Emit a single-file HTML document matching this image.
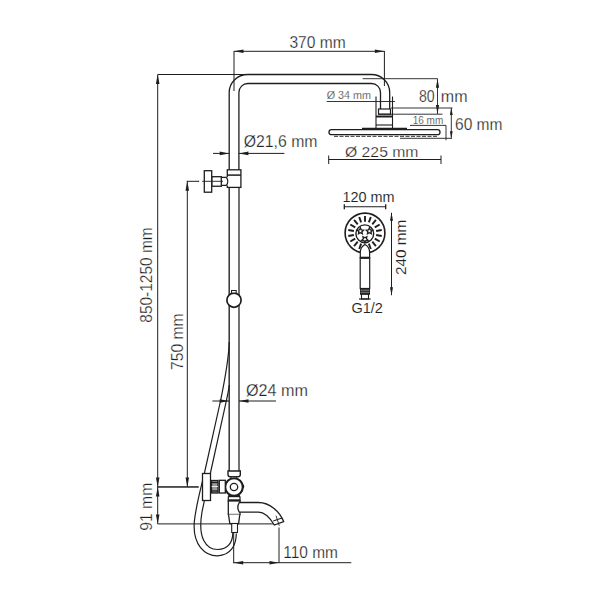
<!DOCTYPE html>
<html><head><meta charset="utf-8"><style>
html,body{margin:0;padding:0;background:#fff;width:600px;height:600px;overflow:hidden}
svg{display:block}
text{font-family:"Liberation Sans",sans-serif}
</style></head><body>
<svg width="600" height="600" viewBox="0 0 600 600">
<rect width="600" height="600" fill="#fff"/>
<path d="M229.2,172 L229.2,92.5 A18.6,18 0 0 1 247.8,74.5 L371.3,74.5 A18.4,18 0 0 1 389.7,92.5 L389.7,109" stroke="#1e1e1e" stroke-width="1.3" fill="none" />
<path d="M238.9,172 L238.9,92.5 A9,9 0 0 1 247.9,83.5 L371.5,83.5 A9,9 0 0 1 380.5,92.5 L380.5,109" stroke="#1e1e1e" stroke-width="1.3" fill="none" />
<line x1="234" y1="51" x2="234" y2="91" stroke="#1e1e1e" stroke-width="1.0" />
<line x1="384.4" y1="51" x2="384.4" y2="86" stroke="#1e1e1e" stroke-width="1.0" />
<line x1="234" y1="51.3" x2="384.4" y2="51.3" stroke="#1e1e1e" stroke-width="1.0" />
<polygon points="234.00,51.30 243.50,49.50 243.50,53.10" fill="#1e1e1e"/>
<polygon points="384.40,51.30 374.90,49.50 374.90,53.10" fill="#1e1e1e"/>
<text x="289.4" y="47.6" font-size="16" fill="#222" stroke="#fff" stroke-width="0.25" text-anchor="start" textLength="56.2" lengthAdjust="spacingAndGlyphs">370 mm</text>
<line x1="157.7" y1="74.5" x2="247.5" y2="74.5" stroke="#1e1e1e" stroke-width="1.0" />
<line x1="157.7" y1="74.5" x2="157.7" y2="487" stroke="#1e1e1e" stroke-width="1.0" />
<polygon points="157.70,74.50 155.90,84.00 159.50,84.00" fill="#1e1e1e"/>
<polygon points="157.70,487.00 155.90,477.50 159.50,477.50" fill="#1e1e1e"/>
<text x="152.1" y="322.7" font-size="16" fill="#222" stroke="#fff" stroke-width="0.25" text-anchor="start" textLength="95.4" lengthAdjust="spacingAndGlyphs" transform="rotate(-90 152.1 322.7)">850-1250 mm</text>
<line x1="187.3" y1="181.3" x2="187.3" y2="487" stroke="#1e1e1e" stroke-width="1.0" />
<polygon points="187.30,181.30 185.50,190.80 189.10,190.80" fill="#1e1e1e"/>
<polygon points="187.30,487.00 185.50,477.50 189.10,477.50" fill="#1e1e1e"/>
<text x="183.3" y="370" font-size="16" fill="#222" stroke="#fff" stroke-width="0.25" text-anchor="start" textLength="56.7" lengthAdjust="spacingAndGlyphs" transform="rotate(-90 183.3 370)">750 mm</text>
<line x1="186.7" y1="181.3" x2="198.7" y2="181.3" stroke="#1e1e1e" stroke-width="1.0" />
<line x1="157.7" y1="487" x2="198.8" y2="487" stroke="#1e1e1e" stroke-width="1.0" />
<line x1="157.7" y1="487" x2="157.7" y2="523.9" stroke="#1e1e1e" stroke-width="1.0" />
<polygon points="157.70,487.00 155.90,496.50 159.50,496.50" fill="#1e1e1e"/>
<polygon points="157.70,523.90 155.90,514.40 159.50,514.40" fill="#1e1e1e"/>
<line x1="157.7" y1="523.9" x2="273.7" y2="523.9" stroke="#1e1e1e" stroke-width="1.0" />
<text x="152.2" y="530.7" font-size="16" fill="#222" stroke="#fff" stroke-width="0.25" text-anchor="start" textLength="47.9" lengthAdjust="spacingAndGlyphs" transform="rotate(-90 152.2 530.7)">91 mm</text>
<line x1="229.2" y1="187" x2="229.2" y2="471" stroke="#333" stroke-width="1.5" />
<line x1="239.0" y1="187" x2="239.0" y2="471" stroke="#444" stroke-width="1.5" />
<line x1="213" y1="153.4" x2="229.2" y2="153.4" stroke="#1e1e1e" stroke-width="1.0" />
<polygon points="229.20,153.40 219.70,151.60 219.70,155.20" fill="#1e1e1e"/>
<line x1="238.9" y1="153.4" x2="284.4" y2="153.4" stroke="#1e1e1e" stroke-width="1.0" />
<polygon points="238.90,153.40 248.40,151.60 248.40,155.20" fill="#1e1e1e"/>
<text x="243.7" y="147" font-size="16" fill="#222" stroke="#fff" stroke-width="0.25" text-anchor="start" textLength="73.8" lengthAdjust="spacingAndGlyphs">Ø21,6 mm</text>
<rect x="227.3" y="169.8" width="13.6" height="17.6" rx="0" stroke="#1e1e1e" stroke-width="1.3" fill="#fff"/>
<line x1="227.3" y1="175.1" x2="240.9" y2="175.1" stroke="#1e1e1e" stroke-width="1.5" />
<rect x="221" y="177.2" width="7.3" height="8.3" fill="#fff"/>
<path d="M221.3,177.3 L226.3,177.3 Q229.4,181.3 226.3,185.4 L221.3,185.4" stroke="#1e1e1e" stroke-width="1.2" fill="none" />
<rect x="211.75" y="176.7" width="9.55" height="9.55" rx="0" stroke="#1e1e1e" stroke-width="1.3" fill="#fff"/>
<rect x="204.3" y="170.7" width="7.4" height="21.5" rx="0" stroke="#1e1e1e" stroke-width="1.3" fill="#fff"/>
<line x1="202.2" y1="181.3" x2="223" y2="181.3" stroke="#1e1e1e" stroke-width="0.9" />
<line x1="198" y1="181.3" x2="199.2" y2="181.3" stroke="#1e1e1e" stroke-width="0.9" />
<circle cx="234" cy="300.2" r="7.1" stroke="#1e1e1e" stroke-width="1.7" fill="#fff"/>
<rect x="231.5" y="290.5" width="4.7" height="2.5" rx="0" stroke="#1e1e1e" stroke-width="1.0" fill="#fff"/>
<line x1="212.4" y1="401" x2="229.2" y2="401" stroke="#1e1e1e" stroke-width="1.0" />
<polygon points="229.20,401.00 219.70,399.20 219.70,402.80" fill="#1e1e1e"/>
<line x1="239" y1="401" x2="276" y2="401" stroke="#1e1e1e" stroke-width="1.0" />
<polygon points="239.00,401.00 248.50,399.20 248.50,402.80" fill="#1e1e1e"/>
<text x="246" y="396" font-size="16" fill="#222" stroke="#fff" stroke-width="0.25" text-anchor="start" textLength="62" lengthAdjust="spacingAndGlyphs">Ø24 mm</text>
<path d="M229.2,342 C228.8,358 224,384 220.5,401 L204,475 C201,488 196,505 194.3,522 C192.5,545 205,556 217.7,555.8 C230,555.5 236.3,546 236.3,533.5" stroke="#1e1e1e" stroke-width="1.2" fill="none" />
<path d="M229.2,385 C228.8,390 227.5,395 226.3,401 L210,475 C208,485 205,497 202,512 C197.5,538 206,549.5 217.7,549.5 C228,549.5 232.8,542 232.8,533" stroke="#1e1e1e" stroke-width="1.2" fill="none" />
<path d="M228,471 L240.3,471 L240.3,474.5 Q240.3,476.7 238,476.7 L230.3,476.7 Q228,476.7 228,474.5 Z" stroke="#1e1e1e" stroke-width="1.4" fill="#fff" />
<rect x="231" y="476.7" width="5.3" height="2.5" rx="0" stroke="#1e1e1e" stroke-width="1.1" fill="#fff"/>
<rect x="228.3" y="500.5" width="11.7" height="14" rx="0" stroke="#1e1e1e" stroke-width="1.3" fill="#fff"/>
<path d="M228.5,514.5 L229.8,523.6 L238.6,523.6 L239.8,514.5" stroke="#1e1e1e" stroke-width="1.3" fill="#fff" />
<path d="M228.3,501 L228.3,497.5 Q228.3,495 231,495 L237.3,495 Q240,495 240,497.5 L240,501 Z" stroke="#1e1e1e" stroke-width="1.2" fill="#fff" />
<line x1="228.3" y1="496.3" x2="240" y2="496.3" stroke="#1e1e1e" stroke-width="1.8" />
<line x1="228.3" y1="500.2" x2="240" y2="500.2" stroke="#1e1e1e" stroke-width="1.8" />
<rect x="231.7" y="523.5" width="5.8" height="9" rx="0" stroke="#1e1e1e" stroke-width="1.1" fill="#fff"/>
<path d="M239.3,502.5 L258.5,502.5 C270,502.5 280,512 283.7,521.7 L274.3,525 C270,518 265,512.2 258.5,512.2 L239.3,512.2 Q236.3,507.35 239.3,502.5 Z" stroke="#1e1e1e" stroke-width="1.3" fill="#fff" />
<line x1="273.2" y1="521" x2="282" y2="518" stroke="#1e1e1e" stroke-width="1.1" />
<line x1="276" y1="515.7" x2="279.3" y2="525.7" stroke="#1e1e1e" stroke-width="0.9" />
<circle cx="234" cy="487" r="8.8" stroke="#1e1e1e" stroke-width="2.1" fill="#fff"/>
<path d="M242.3,484.3 Q245,486.3 242.3,488.6" stroke="#1e1e1e" stroke-width="1.3" fill="none" />
<circle cx="234" cy="487" r="3.7" stroke="#1e1e1e" stroke-width="1.3" fill="#fff"/>
<rect x="219.3" y="480.3" width="6" height="12.7" rx="0" stroke="#1e1e1e" stroke-width="1.3" fill="#fff"/>
<rect x="211.5" y="480.5" width="6.5" height="12.5" rx="0" stroke="#1e1e1e" stroke-width="1.3" fill="#999"/>
<line x1="211.5" y1="482.5" x2="218" y2="482.5" stroke="#1e1e1e" stroke-width="1.3" />
<line x1="211.5" y1="486.5" x2="218" y2="486.5" stroke="#fff" stroke-width="0.8" />
<line x1="211.5" y1="491" x2="218" y2="491" stroke="#1e1e1e" stroke-width="1.3" />
<rect x="202.5" y="473.5" width="8" height="27" rx="0" stroke="#1e1e1e" stroke-width="1.3" fill="#fff"/>
<line x1="157.7" y1="486.9" x2="198.5" y2="486.9" stroke="#1e1e1e" stroke-width="1.0" />
<line x1="233.7" y1="532.5" x2="233.7" y2="563.3" stroke="#1e1e1e" stroke-width="1.0" />
<line x1="279" y1="527.5" x2="279" y2="563" stroke="#1e1e1e" stroke-width="1.0" />
<line x1="233.7" y1="562.7" x2="351.3" y2="562.7" stroke="#1e1e1e" stroke-width="1.0" />
<polygon points="233.70,562.70 243.20,560.90 243.20,564.50" fill="#1e1e1e"/>
<polygon points="279.00,562.70 269.50,560.90 269.50,564.50" fill="#1e1e1e"/>
<text x="283.3" y="558.3" font-size="16" fill="#222" stroke="#fff" stroke-width="0.25" text-anchor="start" textLength="54.7" lengthAdjust="spacingAndGlyphs">110 mm</text>
<line x1="326.7" y1="101.5" x2="395" y2="101.5" stroke="#1e1e1e" stroke-width="0.9" />
<text x="326.7" y="99.2" font-size="10.5" fill="#222" stroke="#fff" stroke-width="0.25" text-anchor="start" textLength="44.3" lengthAdjust="spacingAndGlyphs">Ø 34 mm</text>
<line x1="376" y1="96.5" x2="376" y2="128" stroke="#1e1e1e" stroke-width="1.1" />
<line x1="392.5" y1="96.5" x2="392.5" y2="128" stroke="#1e1e1e" stroke-width="1.1" />
<rect x="378.5" y="109" width="12" height="5.2" rx="0" stroke="#1e1e1e" stroke-width="1.2" fill="#fff"/>
<line x1="391" y1="108" x2="452.5" y2="108" stroke="#1e1e1e" stroke-width="0.9" />
<line x1="378.5" y1="114.2" x2="442.5" y2="114.2" stroke="#1e1e1e" stroke-width="0.9" />
<line x1="376" y1="116.5" x2="392.5" y2="116.5" stroke="#1e1e1e" stroke-width="2.0" />
<line x1="376" y1="125" x2="392.5" y2="125" stroke="#1e1e1e" stroke-width="1.1" />
<line x1="362" y1="128.6" x2="407" y2="128.6" stroke="#1e1e1e" stroke-width="1.6" />
<rect x="329" y="129.6" width="111" height="5.1" rx="2.5" stroke="#1e1e1e" stroke-width="1.3" fill="#fff"/>
<line x1="334" y1="136.3" x2="438" y2="136.3" stroke="#555" stroke-width="1.3" stroke-dasharray="4,1.5"/>
<text x="412.7" y="123.9" font-size="10" fill="#333" stroke="#fff" stroke-width="0.2" text-anchor="start" textLength="30.6" lengthAdjust="spacingAndGlyphs">16 mm</text>
<line x1="410" y1="125.4" x2="446" y2="125.4" stroke="#1e1e1e" stroke-width="0.9" />
<line x1="446" y1="125.4" x2="446" y2="140.3" stroke="#1e1e1e" stroke-width="0.9" />
<line x1="400" y1="138.3" x2="452" y2="138.3" stroke="#1e1e1e" stroke-width="0.9" />
<line x1="451.3" y1="108" x2="451.3" y2="138.3" stroke="#1e1e1e" stroke-width="0.9" />
<polygon points="451.30,108.00 449.90,115.00 452.70,115.00" fill="#1e1e1e"/>
<polygon points="451.30,138.30 449.90,131.30 452.70,131.30" fill="#1e1e1e"/>
<line x1="362.7" y1="78.7" x2="437.5" y2="78.7" stroke="#1e1e1e" stroke-width="0.9" />
<line x1="437.5" y1="78.7" x2="437.5" y2="114" stroke="#1e1e1e" stroke-width="0.9" />
<polygon points="437.50,78.70 435.90,87.70 439.10,87.70" fill="#1e1e1e"/>
<polygon points="437.50,114.00 435.90,105.00 439.10,105.00" fill="#1e1e1e"/>
<text x="419" y="101.7" font-size="16" fill="#222" stroke="#fff" stroke-width="0.25" text-anchor="start" textLength="15.7" lengthAdjust="spacingAndGlyphs">80</text>
<text x="440.8" y="101.7" font-size="16" fill="#222" stroke="#fff" stroke-width="0.25" text-anchor="start" textLength="26.7" lengthAdjust="spacingAndGlyphs">mm</text>
<text x="455" y="129.7" font-size="16" fill="#222" stroke="#fff" stroke-width="0.25" text-anchor="start" textLength="47.5" lengthAdjust="spacingAndGlyphs">60 mm</text>
<line x1="328.7" y1="159.5" x2="441" y2="159.5" stroke="#1e1e1e" stroke-width="1.0" />
<line x1="328.7" y1="155.5" x2="328.7" y2="164" stroke="#1e1e1e" stroke-width="1.0" />
<line x1="441" y1="155.5" x2="441" y2="164" stroke="#1e1e1e" stroke-width="1.0" />
<text x="345" y="157.2" font-size="15" fill="#222" stroke="#fff" stroke-width="0.25" text-anchor="start" textLength="73.5" lengthAdjust="spacingAndGlyphs">Ø 225 mm</text>
<line x1="344.3" y1="206.7" x2="385.7" y2="206.7" stroke="#1e1e1e" stroke-width="1.1" />
<line x1="344.3" y1="204.3" x2="344.3" y2="209.2" stroke="#1e1e1e" stroke-width="1.3" />
<line x1="385.7" y1="204.3" x2="385.7" y2="209.2" stroke="#1e1e1e" stroke-width="1.3" />
<text x="342.4" y="201.8" font-size="14.3" fill="#222" stroke="#fff" stroke-width="0.1" text-anchor="start" textLength="52.2" lengthAdjust="spacingAndGlyphs">120 mm</text>
<circle cx="365" cy="233" r="19.9" stroke="#1e1e1e" stroke-width="1.6" fill="#fff"/>
<line x1="365.0" y1="221.7" x2="365.0" y2="216.0" stroke="#1e1e1e" stroke-width="1.9" />
<line x1="368.86" y1="222.38" x2="370.81" y2="217.03" stroke="#1e1e1e" stroke-width="1.9" />
<line x1="372.26" y1="224.34" x2="375.93" y2="219.98" stroke="#1e1e1e" stroke-width="1.9" />
<line x1="374.79" y1="227.35" x2="379.72" y2="224.5" stroke="#1e1e1e" stroke-width="1.9" />
<line x1="376.13" y1="231.04" x2="381.74" y2="230.05" stroke="#1e1e1e" stroke-width="1.9" />
<line x1="376.13" y1="234.96" x2="381.74" y2="235.95" stroke="#1e1e1e" stroke-width="1.9" />
<line x1="374.79" y1="238.65" x2="379.72" y2="241.5" stroke="#1e1e1e" stroke-width="1.9" />
<line x1="372.26" y1="241.66" x2="375.93" y2="246.02" stroke="#1e1e1e" stroke-width="1.9" />
<line x1="368.86" y1="243.62" x2="370.81" y2="248.97" stroke="#1e1e1e" stroke-width="1.9" />
<line x1="361.14" y1="243.62" x2="359.19" y2="248.97" stroke="#1e1e1e" stroke-width="1.9" />
<line x1="357.74" y1="241.66" x2="354.07" y2="246.02" stroke="#1e1e1e" stroke-width="1.9" />
<line x1="355.21" y1="238.65" x2="350.28" y2="241.5" stroke="#1e1e1e" stroke-width="1.9" />
<line x1="353.87" y1="234.96" x2="348.26" y2="235.95" stroke="#1e1e1e" stroke-width="1.9" />
<line x1="353.87" y1="231.04" x2="348.26" y2="230.05" stroke="#1e1e1e" stroke-width="1.9" />
<line x1="355.21" y1="227.35" x2="350.28" y2="224.5" stroke="#1e1e1e" stroke-width="1.9" />
<line x1="357.74" y1="224.34" x2="354.07" y2="219.98" stroke="#1e1e1e" stroke-width="1.9" />
<line x1="361.14" y1="222.38" x2="359.19" y2="217.03" stroke="#1e1e1e" stroke-width="1.9" />
<circle cx="364.8" cy="233.8" r="8.9" stroke="#1e1e1e" stroke-width="1.4" fill="#fff"/>
<polygon points="360.40,227.90 361.34,229.91 363.54,230.18 361.92,231.69 362.34,233.87 360.40,232.80 358.46,233.87 358.88,231.69 357.26,230.18 359.46,229.91" fill="none" stroke="#1e1e1e" stroke-width="1.3"/>
<polygon points="369.40,227.90 370.34,229.91 372.54,230.18 370.92,231.69 371.34,233.87 369.40,232.80 367.46,233.87 367.88,231.69 366.26,230.18 368.46,229.91" fill="none" stroke="#1e1e1e" stroke-width="1.3"/>
<polygon points="366.84,236.63 366.42,238.81 368.04,240.32 365.84,240.59 364.90,242.60 363.96,240.59 361.76,240.32 363.38,238.81 362.96,236.63 364.90,237.70" fill="none" stroke="#1e1e1e" stroke-width="1.3"/>
<path d="M360.3,257.6 L360.3,252.5 C360.3,249 362.5,246 365,244.6 C367.5,246 369.6,249 369.6,252.5 L369.6,257.6 Z" stroke="#1e1e1e" stroke-width="1.2" fill="#fff" />
<rect x="360.2" y="257.6" width="9.5" height="30.9" rx="0" stroke="#1e1e1e" stroke-width="1.2" fill="#fff"/>
<line x1="360.2" y1="257.8" x2="369.7" y2="257.8" stroke="#1e1e1e" stroke-width="2.2" />
<rect x="360.5" y="288.5" width="9" height="5.8" rx="0" stroke="#1e1e1e" stroke-width="1.0" fill="#333"/>
<line x1="360.5" y1="290.3" x2="369.5" y2="290.3" stroke="#999" stroke-width="0.6" />
<line x1="360.5" y1="292.4" x2="369.5" y2="292.4" stroke="#999" stroke-width="0.6" />
<rect x="361.5" y="294.3" width="7" height="4.7" rx="0" stroke="#1e1e1e" stroke-width="1.1" fill="#fff"/>
<line x1="359" y1="299" x2="370.7" y2="299" stroke="#1e1e1e" stroke-width="1.2" />
<text x="351.4" y="312.9" font-size="14" fill="#222" stroke="#fff" stroke-width="0.1" text-anchor="start" textLength="31.5" lengthAdjust="spacingAndGlyphs">G1/2</text>
<line x1="391.5" y1="212.8" x2="391.5" y2="295.2" stroke="#1e1e1e" stroke-width="1.0" />
<polygon points="391.50,212.80 390.00,220.80 393.00,220.80" fill="#1e1e1e"/>
<polygon points="391.50,295.20 390.00,287.20 393.00,287.20" fill="#1e1e1e"/>
<text x="405.9" y="275.1" font-size="14.3" fill="#222" stroke="#fff" stroke-width="0.1" text-anchor="start" textLength="55.5" lengthAdjust="spacingAndGlyphs" transform="rotate(-90 405.9 275.1)">240 mm</text>
</svg></body></html>
